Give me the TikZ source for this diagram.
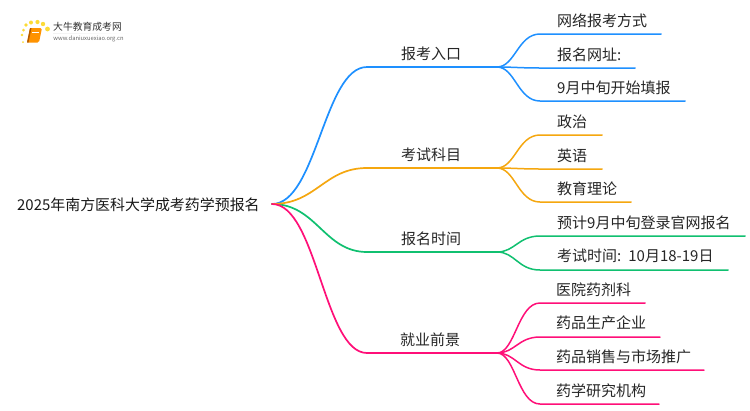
\documentclass[tikz,border=0pt]{standalone}
\usepackage{fontspec}
\setmainfont{Noto Sans CJK SC}
\usetikzlibrary{calc}
\definecolor{cblue}{HTML}{1E90FF}
\definecolor{corange}{HTML}{F5A70F}
\definecolor{cgreen}{HTML}{10C070}
\definecolor{cpink}{HTML}{FF0F78}
\tikzset{
  px/.style={x=1bp,y=-1bp},
  lbl/.style={anchor=center,inner sep=0pt,font=\fontsize{15bp}{15bp}\selectfont,text=black!85},
  rootlbl/.style={anchor=west,inner sep=0pt,font=\fontsize{14.95bp}{15bp}\selectfont,text=black!90},
  wire/.style={line width=1.7bp,line cap=round},
  thin wire/.style={line width=1.5bp,line cap=round},
}
\newcommand{\trunk}[3]{\draw[wire,#1] (root) .. controls ($(root)!.47!(#2 |- root)$) and ($(#2)-(43,0)$) .. (#2) -- (#3);}
\newcommand{\twig}[4]{\draw[thin wire,#1] (#2) .. controls ($(#2)+(18,0)$) and ($(#3)-(22,0)$) .. (#3) -- (#4);}
\begin{document}
\begin{tikzpicture}[px]
\useasboundingbox (0,0) rectangle (750,410);
\fill[white] (0,0) rectangle (750,410);
% logo
\begin{scope}
\foreach \p/\r in {{22,35}/1.3,{23.5,30}/1.5,{26,25}/1.8,{31,22.5}/2,{37.5,22}/2.1,{43,24}/2.2,{47.5,29}/2.4,{23,42}/1}{
  \fill[yellow!70!orange,opacity=.8] (\p) circle (\r);}
\fill[orange!85!yellow,rounded corners=1.5] (30,28) -- (42,28) -- (39,42.5) -- (27,42.5) -- cycle;
\fill[orange!70!black] (30,28) -- (31.5,28) -- (28.5,42.5) -- (27,42.5) -- cycle;
\draw[white,line width=.4] (32,32) -- (38.5,32);
\end{scope}
\node[inner sep=0pt,font=\fontsize{9.8bp}{10bp}\selectfont,text=black!80] (logot) at (87.5,27) {大牛教育成考网};
\node[inner sep=0pt,font=\fontsize{5.8bp}{6bp}\selectfont,text=black!60] (logou) at (88.5,38.8) {www.daniuxuexiao.org.cn};
\shade[left color=black!5,right color=white] (53,33) rectangle (132,33.6);
% junctions
\coordinate (root) at (272,204);
\coordinate (a) at (367,67);   \coordinate (ae) at (497,67);
\coordinate (b) at (367,168);  \coordinate (be) at (497,168);
\coordinate (c) at (367,252);  \coordinate (ce) at (497,252);
\coordinate (d) at (367,353);  \coordinate (de) at (497,353);
\foreach \n/\x/\y/\e in {a1/540/34/661,a2/541/68/635,a3/540/101/685,
  b1/540/135/602,b2/541/169/602,b3/540/202/631,
  c1/540/236/745,c2/540/270/728,
  d1/540/303/645,d2/540/337/660,d3/540/370/704,d4/540/404/659}{
  \coordinate (\n) at (\x,\y); \coordinate (\n e) at (\e,\y);}
% trunks
\trunk{cgreen}{c}{ce}
\trunk{cblue}{a}{ae}
\trunk{corange}{b}{be}
\trunk{cpink}{d}{de}
% twigs
\twig{cblue}{ae}{a1}{a1e}\twig{cblue}{ae}{a2}{a2e}\twig{cblue}{ae}{a3}{a3e}
\twig{corange}{be}{b1}{b1e}\twig{corange}{be}{b2}{b2e}\twig{corange}{be}{b3}{b3e}
\twig{cgreen}{ce}{c1}{c1e}\twig{cgreen}{ce}{c2}{c2e}
\twig{cpink}{de}{d1}{d1e}\twig{cpink}{de}{d2}{d2e}\twig{cpink}{de}{d3}{d3e}\twig{cpink}{de}{d4}{d4e}
% labels
\node[rootlbl] (rootl) at (17,205) {2025年南方医科大学成考药学预报名};
\node[lbl] (at) at (431,54) {报考入口};
\node[lbl] (bt) at (431,155) {考试科目};
\node[lbl] (ct) at (431,239) {报名时间};
\node[lbl] (dt) at (430,340) {就业前景};
\tikzset{lblw/.style={lbl,anchor=west}}
\node[lblw] (a1t) at (557,21) {网络报考方式};
\node[lblw] (a2t) at (557,55) {报名网址:};
\node[lblw] (a3t) at (557,88) {9月中旬开始填报};
\node[lblw] (b1t) at (557,122) {政治};
\node[lblw] (b2t) at (557,156) {英语};
\node[lblw] (b3t) at (557,189) {教育理论};
\node[lblw] (c1t) at (557,223) {预计9月中旬登录官网报名};
\node[lblw] (c2t) at (557,256) {考试时间:\hspace{2.5bp} 10月18-19日};
\node[lblw] (d1t) at (556,290) {医院药剂科};
\node[lblw] (d2t) at (556,323) {药品生产企业};
\node[lblw] (d3t) at (556,357) {药品销售与市场推广};
\node[lblw] (d4t) at (556,391) {药学研究机构};
\end{tikzpicture}
\end{document}
